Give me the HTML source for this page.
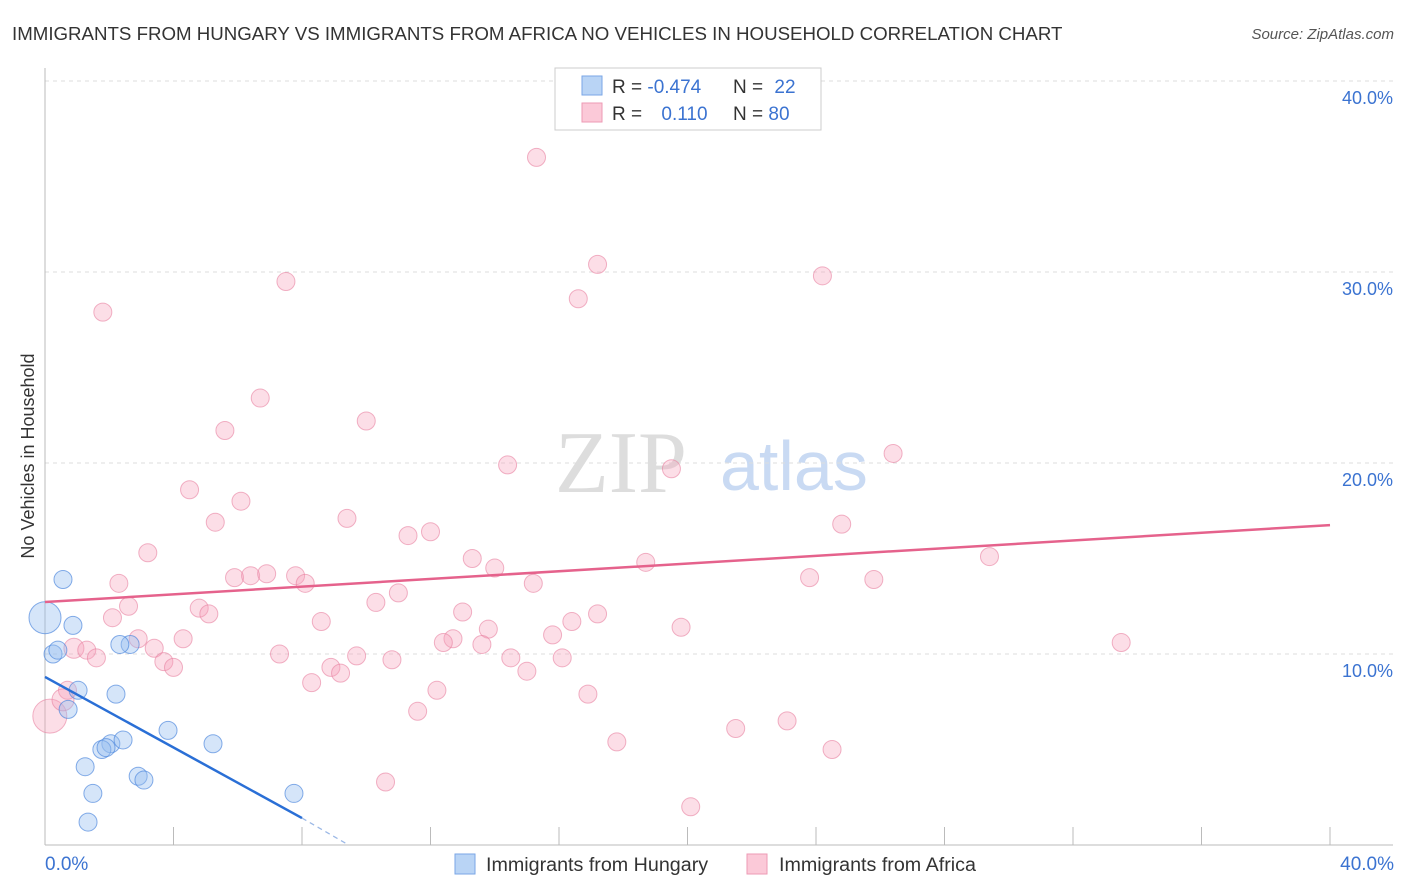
<!DOCTYPE html>
<html><head><meta charset="utf-8"><style>
body{margin:0;background:#fff;font-family:"Liberation Sans",sans-serif}
svg{display:block}
</style></head><body>
<svg id="chart" width="1406" height="892" xmlns="http://www.w3.org/2000/svg">
<text x="12" y="40" font-size="18.7" fill="#333">IMMIGRANTS FROM HUNGARY VS IMMIGRANTS FROM AFRICA NO VEHICLES IN HOUSEHOLD CORRELATION CHART</text>
<text x="1394" y="39" font-size="15" fill="#555" font-style="italic" text-anchor="end">Source: ZipAtlas.com</text>
<text x="555" y="492" font-size="88" fill="#ddd" font-family="Liberation Serif,serif">ZIP</text>
<text x="720" y="490" font-size="70" fill="#c9daf3">atlas</text>
<g id="grid"></g>
<g id="axes"></g>
<g id="pts"></g>
<g id="trend"></g>
<text transform="translate(34,456) rotate(-90)" font-size="18" fill="#333" text-anchor="middle">No Vehicles in Household</text>
<text x="45" y="870" font-size="19" fill="#3b73d1">0.0%</text>
<text x="1394" y="870" font-size="19" fill="#3b73d1" text-anchor="end">40.0%</text>
<g>
<rect x="555" y="68" width="266" height="62" fill="#fff" stroke="#ccc"/>
<rect x="582" y="76" width="20" height="19" fill="#b9d4f5" stroke="#7aa6e6"/>
<rect x="582" y="103" width="20" height="19" fill="#fbc9d8" stroke="#ee9ab4"/>
<text x="612" y="93" font-size="19" fill="#333">R = <tspan fill="#3b73d1">-0.474</tspan></text>
<text x="733" y="93" font-size="19" fill="#333">N = <tspan fill="#3b73d1" dx="6">22</tspan></text>
<text x="612" y="120" font-size="19" fill="#333">R = <tspan fill="#3b73d1" dx="14">0.110</tspan></text>
<text x="733" y="120" font-size="19" fill="#333">N = <tspan fill="#3b73d1">80</tspan></text>
</g>
<g>
<rect x="455" y="854" width="20" height="20" fill="#b9d4f5" stroke="#7aa6e6"/>
<text x="486" y="871" font-size="19.7" fill="#333">Immigrants from Hungary</text>
<rect x="747" y="854" width="20" height="20" fill="#fbc9d8" stroke="#ee9ab4"/>
<text x="779" y="871" font-size="19.7" fill="#333">Immigrants from Africa</text>
</g>
</svg>
<script>
const yTicks=[10,20,30,40];
const yTickLabels=["10.0%","20.0%","30.0%","40.0%"];
const blueX=[0,0.56,0.87,0.25,0.4,2.65,2.33,1.03,0.72,2.21,3.83,2.05,2.43,1.77,1.9,5.23,1.25,2.9,3.08,1.49,7.75,1.34];
const blueY=[11.9,13.9,11.5,10.0,10.2,10.5,10.5,8.1,7.1,7.9,6.0,5.3,5.5,5.0,5.1,5.3,4.1,3.6,3.4,2.7,2.7,1.2];
const blueSize=[16,9,9,9,9,9,9,9,9,9,9,9,9,9,9,9,9,9,9,9,9,9];
const pinkX=[15.3,17.2,16.6,24.2,7.5,1.8,6.7,10.0,5.6,14.4,19.5,26.4,4.5,6.1,5.3,9.4,24.8,11.3,12.0,3.2,29.4,13.3,14.0,18.7,2.3,5.9,6.4,6.9,7.8,8.1,15.2,23.8,25.8,11.0,10.3,2.6,4.8,5.1,13.0,2.1,8.6,17.2,16.4,19.8,13.8,2.9,4.3,15.8,12.7,12.4,13.6,33.5,3.4,0.9,1.3,1.6,7.3,9.7,14.5,16.1,10.8,3.7,4.0,8.9,9.2,15.0,8.3,0.7,12.2,16.9,0.15,0.56,11.6,21.5,23.1,17.8,24.5,10.6,20.1];
const pinkY=[36.0,30.4,28.6,29.8,29.5,27.9,23.4,22.2,21.7,19.9,19.7,20.5,18.6,18.0,16.9,17.1,16.8,16.2,16.4,15.3,15.1,15.0,14.5,14.8,13.7,14.0,14.1,14.2,14.1,13.7,13.7,14.0,13.9,13.2,12.7,12.5,12.4,12.1,12.2,11.9,11.7,12.1,11.7,11.4,11.3,10.8,10.8,11.0,10.8,10.6,10.5,10.6,10.3,10.3,10.2,9.8,10.0,9.9,9.8,9.8,9.7,9.6,9.3,9.3,9.0,9.1,8.5,8.1,8.1,7.9,6.75,7.6,7.0,6.1,6.5,5.4,5.0,3.3,2.0];
const pinkSize=pinkX.map((v,i)=> i===70?17:(i===71?11:(i===53?10:9)));
const blueTrend=[[0,8.8],[8.0,1.41]];
const blueTrendExt=[[8.0,1.41],[9.35,0.1]];
const pinkTrend=[[0,12.72],[40,16.75]];
const X0=45,X1=1330,Y0=845,PXY=19.1;
const sx=v=>X0+(X1-X0)*v/40;
const sy=v=>Y0-v*PXY;
const NS="http://www.w3.org/2000/svg";
function mk(t,a,p){const e=document.createElementNS(NS,t);for(const k in a)e.setAttribute(k,a[k]);p.appendChild(e);return e;}
const grid=document.getElementById('grid'),axes=document.getElementById('axes'),pts=document.getElementById('pts'),tr=document.getElementById('trend');
yTicks.forEach((t,i)=>{
 const l=mk('line',{x1:X0,x2:1393,y1:sy(t),y2:sy(t),stroke:'#ddd','stroke-dasharray':'4,4'},grid);
 
 
 const tx=mk('text',{x:1393,y:sy(t)+23,'font-size':18,fill:'#3b73d1','text-anchor':'end'},grid);
 tx.textContent=yTickLabels[i];
 
 
});
const ya=mk('line',{x1:X0,x2:X0,y1:68,y2:Y0,stroke:'#bbb'},axes);


const xa=mk('line',{x1:X0,x2:1393,y1:Y0,y2:Y0,stroke:'#bbb'},axes);


for(let i=1;i<=10;i++){
 const tk=mk('line',{x1:sx(i*4),x2:sx(i*4),y1:827,y2:Y0,stroke:'#bbb'},axes);
 
 
}
pinkX.forEach((x,i)=>{
 const c=mk('circle',{cx:sx(x),cy:sy(pinkY[i]),r:pinkSize[i],fill:'rgba(246,160,187,0.35)',stroke:'rgba(232,128,160,0.6)'},pts);
 
 
});
blueX.forEach((x,i)=>{
 const c=mk('circle',{cx:sx(x),cy:sy(blueY[i]),r:blueSize[i],fill:'rgba(150,190,240,0.4)',stroke:'rgba(70,130,220,0.65)'},pts);
 
 
});
const pl=mk('line',{x1:sx(pinkTrend[0][0]),y1:sy(pinkTrend[0][1]),x2:sx(pinkTrend[1][0]),y2:sy(pinkTrend[1][1]),stroke:'#e5628c','stroke-width':2.5},tr);


const bl=mk('line',{x1:sx(blueTrend[0][0]),y1:sy(blueTrend[0][1]),x2:sx(blueTrend[1][0]),y2:sy(blueTrend[1][1]),stroke:'#2a6fd6','stroke-width':2.5},tr);


const bd=mk('line',{x1:sx(blueTrendExt[0][0]),y1:sy(blueTrendExt[0][1]),x2:sx(blueTrendExt[1][0]),y2:sy(blueTrendExt[1][1]),stroke:'#9bb8e6','stroke-width':1.2,'stroke-dasharray':'5,4'},tr);


</script>
</body></html>
